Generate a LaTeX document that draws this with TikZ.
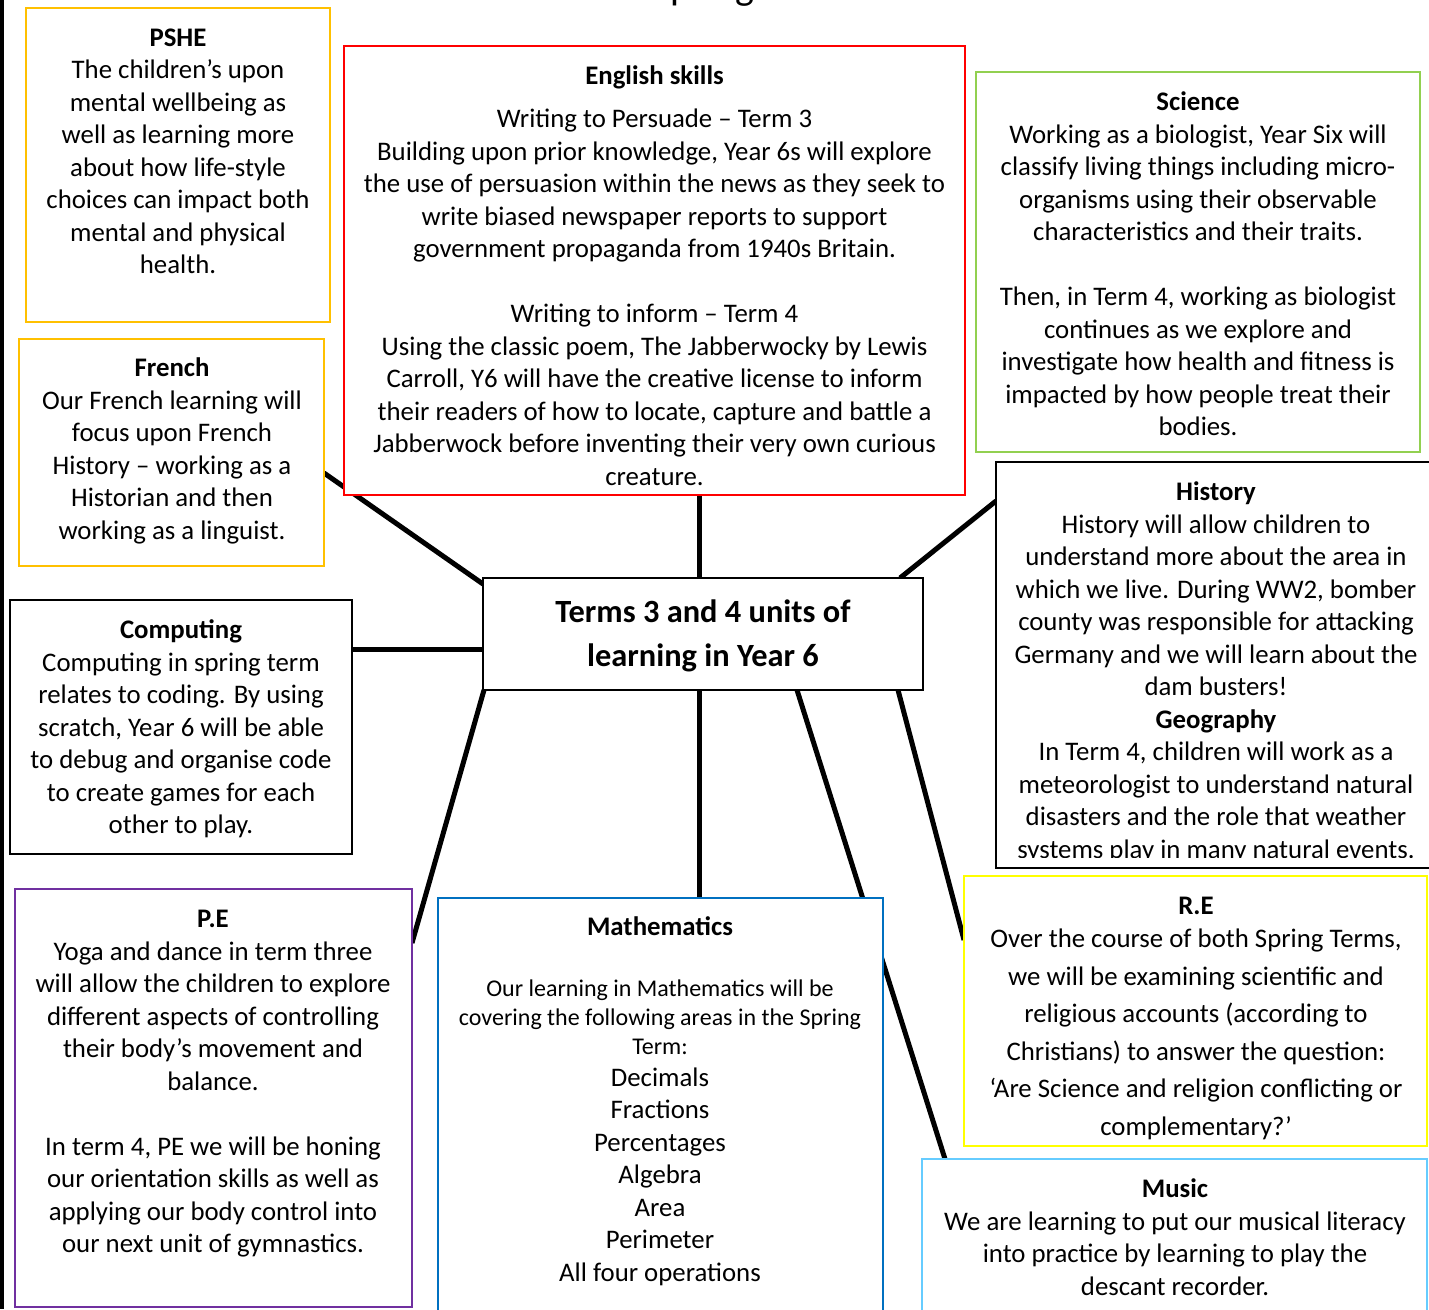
\documentclass[tikz,border=0pt]{standalone}
\usepackage{fontspec}
\setmainfont{Carlito}
\usetikzlibrary{calc,backgrounds}
\definecolor{cpshe}{RGB}{255,192,0}
\definecolor{ceng}{RGB}{255,0,0}
\definecolor{csci}{RGB}{146,208,80}
\definecolor{cpe}{RGB}{112,48,160}
\definecolor{cmath}{RGB}{0,112,192}
\definecolor{cre}{RGB}{255,255,0}
\definecolor{cmus}{RGB}{102,204,255}
\tikzset{
  box/.style={draw=#1, line width=2.5pt, fill=white, inner sep=0pt, outer sep=0pt, anchor=north west},
  bbox/.style={draw=black, line width=2pt, fill=white, inner sep=0pt, outer sep=0pt, anchor=north west},
  txt/.style={inner sep=0pt, outer sep=0pt, anchor=north, align=center,
    font=\fontsize{26.8}{32.5}\selectfont, execute at begin node=\strut},
  link/.style={line width=5pt, draw=black},
}
\begin{document}
\begin{tikzpicture}[x=1pt,y=-1pt]
\useasboundingbox (0,0) rectangle (1429,1309);
\fill[black] (0,0) rectangle (4,1309);
% partial title at top
\begin{scope}
\clip (0,0) rectangle (1429,1309);
\node[inner sep=0pt, anchor=base west, font=\fontsize{40}{48}\selectfont] (ttl) at (652,-1) {Spring};
\end{scope}

% boxes
\node[box=cpshe, minimum width=304pt, minimum height=314pt] (pshe) at (26,8) {};
\node[box=ceng, minimum width=621pt, minimum height=449pt] (eng) at (344,46) {};
\node[box=csci, minimum width=444pt, minimum height=380pt] (sci) at (976,72) {};
\node[box=cpshe, minimum width=305pt, minimum height=227pt] (fre) at (19,339) {};
\node[bbox, minimum width=342pt, minimum height=254pt] (comp) at (10,600) {};
\node[bbox, minimum width=440pt, minimum height=112pt] (cen) at (483,578) {};
\node[bbox, minimum width=444pt, minimum height=406pt] (hist) at (996,462) {};
\node[box=cpe, minimum width=397pt, minimum height=418pt] (pe) at (15,889) {};
\node[box=cmath, minimum width=445pt, minimum height=430pt] (math) at (438,898) {};
\node[box=cre, minimum width=463pt, minimum height=270pt] (re) at (964,876) {};
\node[box=cmus, minimum width=505pt, minimum height=170pt] (mus) at (922,1159) {};

% texts
\node[txt] (tpshe) at (178,28.75) {\textbf{PSHE}\\The children’s upon\\mental wellbeing as\\well as learning more\\about how life-style\\choices can impact both\\mental and physical\\health.};
\node[txt] (teng) at (654.5,65.75) {\textbf{English skills}\\[10.5pt]Writing to Persuade – Term 3\\Building upon prior knowledge, Year 6s will explore\\the use of persuasion within the news as they seek to\\write biased newspaper reports to support\\government propaganda from 1940s Britain.\\[32.5pt]Writing to inform – Term 4\\Using the classic poem, The Jabberwocky by Lewis\\Carroll, Y6 will have the creative license to inform\\their readers of how to locate, capture and battle a\\Jabberwock before inventing their very own curious\\creature.};
\node[txt] (tsci) at (1198,91.75) {\textbf{Science}\\Working as a biologist, Year Six will\\classify living things including micro-\\organisms using their observable\\characteristics and their traits.\\[32.5pt]Then, in Term 4, working as biologist\\continues as we explore and\\investigate how health and fitness is\\impacted by how people treat their\\bodies.};
\node[txt] (tfre) at (172,357.75) {\textbf{French}\\Our French learning will\\focus upon French\\History – working as a\\Historian and then\\working as a linguist.};
\node[txt] (tcomp) at (181,619.75) {\textbf{Computing}\\Computing in spring term\\relates to coding. By using\\scratch, Year 6 will be able\\to debug and organise code\\to create games for each\\other to play.};
\node[txt, font=\fontsize{32.4}{44}\selectfont\bfseries] (tcen) at (703,600.2) {Terms 3 and 4 units of\\learning in Year 6};
\begin{scope}
\clip (996,462) rectangle (1429,857);
\node[txt] (thist) at (1216,481.75) {\textbf{History}\\History will allow children to\\understand more about the area in\\which we live. During WW2, bomber\\county was responsible for attacking\\Germany and we will learn about the\\dam busters!\\\textbf{Geography}\\In Term 4, children will work as a\\meteorologist to understand natural\\disasters and the role that weather\\systems play in many natural events.};
\end{scope}
\node[txt] (tpe) at (213,910.25) {\textbf{P.E}\\Yoga and dance in term three\\will allow the children to explore\\different aspects of controlling\\their body’s movement and\\balance.\\[32.5pt]In term 4, PE we will be honing\\our orientation skills as well as\\applying our body control into\\our next unit of gymnastics.};
\node[txt] (tmath1) at (660,912.75) {\textbf{Mathematics}};
\node[txt, font=\fontsize{24}{29}\selectfont] (tmath2) at (660,980.2) {Our learning in Mathematics will be\\covering the following areas in the Spring\\Term:};
\node[txt] (tmath3) at (660,1067.75) {Decimals\\Fractions\\Percentages\\Algebra\\Area\\Perimeter\\All four operations};
\node[txt, font=\fontsize{26.8}{37.5}\selectfont] (tre) at (1196,897.25) {\textbf{R.E}\\[-4.5pt]Over the course of both Spring Terms,\\we will be examining scientific and\\religious accounts (according to\\Christians) to answer the question:\\‘Are Science and religion conflicting or\\complementary?’};
\node[txt] (tmus) at (1175,1178.75) {\textbf{Music}\\We are learning to put our musical literacy\\into practice by learning to play the\\descant recorder.};

% connectors
\begin{pgfonlayer}{background}
\draw[link] ([xshift=44.5pt]eng.south) -- ([xshift=44.5pt]eng.south |- cen.north);
\draw[link] ([yshift=-20.5pt]fre.east) -- ([yshift=-6pt]cen.north west);
\draw[link] ([yshift=78pt]comp.east) -- ([yshift=78pt]comp.east -| cen.west);
\draw[link] ([yshift=164pt]hist.west) -- ([xshift=-23pt]cen.north east);
\draw[link] ([xshift=1pt]cen.south west) -- ([yshift=-54pt]pe.north east);
\draw[link] ([xshift=-4pt]cen.south) -- ([xshift=-4pt]cen.south |- math.north);
\draw[link] ([xshift=94pt]cen.south) -- ([xshift=23pt]mus.north west);
\draw[link] ([xshift=-25pt]cen.south east) -- ([yshift=-64pt]re.north west);
\end{pgfonlayer}
\end{tikzpicture}
\end{document}
